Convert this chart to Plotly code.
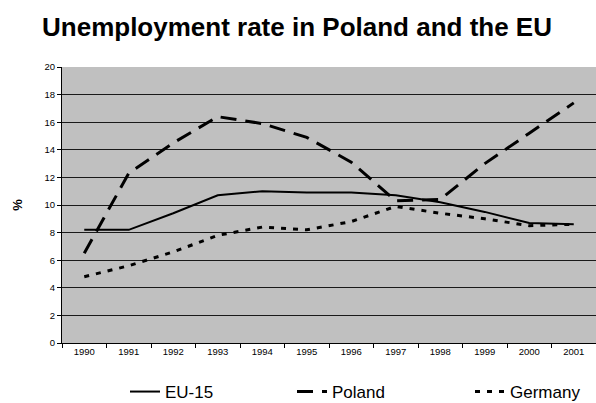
import plotly.graph_objects as go

years = ["1990", "1991", "1992", "1993", "1994", "1995",
         "1996", "1997", "1998", "1999", "2000", "2001"]
eu15 = [8.2, 8.2, 9.4, 10.7, 11.0, 10.9, 10.9, 10.7, 10.2, 9.5, 8.7, 8.6]
poland = [6.5, 12.3, 14.5, 16.4, 15.9, 14.9, 13.1, 10.3, 10.4, 13.0, 15.2, 17.4]
germany = [4.8, 5.6, 6.6, 7.8, 8.4, 8.2, 8.8, 9.9, 9.4, 9.0, 8.5, 8.6]
y_ticks = [0, 2, 4, 6, 8, 10, 12, 14, 16, 18, 20]

font = "Liberation Sans, Arial, sans-serif"
W, H = 596, 403
L, R, T, B = 62, 0, 67, 60
plot_w, plot_h = W - L - R, H - T - B


def px_x(px):
    return (px - L) / plot_w


def px_y(py):
    return (H - B - py) / plot_h


fig = go.Figure()
fig.add_trace(go.Scatter(x=years, y=eu15, name="EU-15", mode="lines",
                         line=dict(color="black", width=2),
                         legend="legend"))
fig.add_trace(go.Scatter(x=years, y=poland, name="Poland", mode="lines",
                         line=dict(color="black", width=3, dash="16px,9px"),
                         legend="legend2"))
fig.add_trace(go.Scatter(x=years, y=germany, name="Germany", mode="lines",
                         line=dict(color="black", width=3, dash="5px,7px"),
                         legend="legend3"))


def legend_box(left_px):
    return dict(orientation="h", x=px_x(left_px), xanchor="left",
                y=px_y(392), yanchor="middle",
                font=dict(size=17, family=font),
                bgcolor="rgba(0,0,0,0)", itemwidth=30)


fig.update_layout(
    width=W, height=H,
    margin=dict(l=L, r=R, t=T, b=B, autoexpand=False),
    paper_bgcolor="white",
    plot_bgcolor="#C0C0C0",
    font=dict(family=font, color="black"),
    title=dict(text="<b>Unemployment rate in Poland and the EU</b>",
               font=dict(size=26, family=font, color="black"),
               x=297 / W, xanchor="center", xref="container",
               y=1 - 27 / H, yanchor="middle", yref="container"),
    showlegend=True,
    legend=legend_box(125),
    legend2=legend_box(292),
    legend3=legend_box(470),
)

fig.update_xaxes(
    type="category", range=[-0.5, 11.5],
    tickson="boundaries", ticks="outside", ticklen=4, tickcolor="black",
    showline=True, linecolor="black", linewidth=1,
    showgrid=False, tickfont=dict(size=9.5, family=font),
    fixedrange=True,
)
fig.update_yaxes(
    range=[0, 20], tickvals=y_ticks,
    ticks="outside", ticklen=4, tickcolor="black",
    showline=True, linecolor="black", linewidth=1,
    showgrid=True, gridcolor="#1a1a1a", gridwidth=1,
    tickfont=dict(size=9.5, family=font),
    title=dict(text="<b>%</b>", font=dict(size=13, family=font), standoff=18),
    zeroline=False, fixedrange=True,
)

fig.write_html("out.html")
